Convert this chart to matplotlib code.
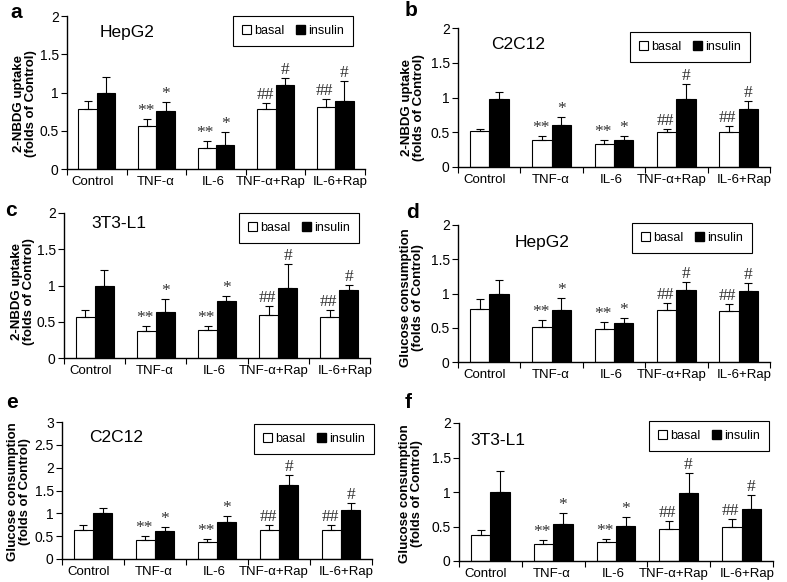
import numpy as np
import matplotlib.pyplot as plt
from matplotlib.patches import Patch
from matplotlib.ticker import FuncFormatter

plt.rcParams['font.family'] = ['Liberation Sans', 'DejaVu Sans']

groups = ['Control', 'TNF-α', 'IL-6', 'TNF-α+Rap', 'IL-6+Rap']
marks_basal = ['', '**', '**', '##', '##']
marks_insulin = ['', '*', '*', '#', '#']

uptake_label = '2-NBDG uptake\n(folds of Control)'
glucose_label = 'Glucose consumption\n(folds of Control)'

# a: HepG2 uptake
a_basal = [0.78, 0.56, 0.28, 0.78, 0.81]
a_basal_err = [0.11, 0.09, 0.08, 0.08, 0.11]
a_ins = [1.00, 0.76, 0.32, 1.10, 0.89]
a_ins_err = [0.20, 0.11, 0.17, 0.09, 0.26]

# b: C2C12 uptake
b_basal = [0.52, 0.39, 0.33, 0.51, 0.51]
b_basal_err = [0.03, 0.05, 0.06, 0.03, 0.08]
b_ins = [0.98, 0.60, 0.39, 0.98, 0.84]
b_ins_err = [0.10, 0.12, 0.05, 0.21, 0.11]

# c: 3T3-L1 uptake
c_basal = [0.56, 0.37, 0.38, 0.59, 0.57]
c_basal_err = [0.10, 0.07, 0.06, 0.13, 0.09]
c_ins = [1.00, 0.63, 0.79, 0.97, 0.94]
c_ins_err = [0.22, 0.19, 0.07, 0.32, 0.07]

# d: HepG2 glucose consumption
d_basal = [0.78, 0.51, 0.48, 0.76, 0.74]
d_basal_err = [0.14, 0.10, 0.10, 0.10, 0.11]
d_ins = [1.00, 0.76, 0.57, 1.05, 1.04]
d_ins_err = [0.20, 0.17, 0.07, 0.12, 0.11]

# e: C2C12 glucose consumption
e_basal = [0.63, 0.41, 0.37, 0.635, 0.635]
e_basal_err = [0.12, 0.09, 0.07, 0.10, 0.12]
e_ins = [1.00, 0.61, 0.80, 1.61, 1.07]
e_ins_err = [0.12, 0.08, 0.14, 0.24, 0.15]

# f: 3T3-L1 glucose consumption
f_basal = [0.38, 0.25, 0.27, 0.47, 0.49]
f_basal_err = [0.07, 0.06, 0.05, 0.11, 0.12]
f_ins = [1.00, 0.53, 0.51, 0.99, 0.76]
f_ins_err = [0.31, 0.16, 0.13, 0.29, 0.20]

W, H = 787, 582

panels = [
    dict(letter='a', title='HepG2', ylabel=uptake_label, ymax=2, yticks=[0, 0.5, 1, 1.5, 2],
         basal=a_basal, be=a_basal_err, ins=a_ins, ie=a_ins_err,
         box=(67, 365, 16, 169), letter_xy=(16, 12), title_xy=(0.5, 1.78),
         lab_xy=(25, 104), leg=(293, 31)),
    dict(letter='b', title='C2C12', ylabel=uptake_label, ymax=2, yticks=[0, 0.5, 1, 1.5, 2],
         basal=b_basal, be=b_basal_err, ins=b_ins, ie=b_ins_err,
         box=(458, 770, 28, 167), letter_xy=(411, 10), title_xy=(0.46, 1.76),
         lab_xy=(413, 108), leg=(690, 47)),
    dict(letter='c', title='3T3-L1', ylabel=uptake_label, ymax=2, yticks=[0, 0.5, 1, 1.5, 2],
         basal=c_basal, be=c_basal_err, ins=c_ins, ie=c_ins_err,
         box=(64, 370, 213, 358), letter_xy=(11, 210), title_xy=(0.4, 1.86),
         lab_xy=(23, 292), leg=(299, 228)),
    dict(letter='d', title='HepG2', ylabel=glucose_label, ymax=2, yticks=[0, 0.5, 1, 1.5, 2],
         basal=d_basal, be=d_basal_err, ins=d_ins, ie=d_ins_err,
         box=(458, 770, 225, 362), letter_xy=(412, 212), title_xy=(0.85, 1.75),
         lab_xy=(412, 298), leg=(692, 238)),
    dict(letter='e', title='C2C12', ylabel=glucose_label, ymax=3, yticks=[0, 0.5, 1, 1.5, 2, 2.5, 3],
         basal=e_basal, be=e_basal_err, ins=e_ins, ie=e_ins_err,
         box=(62, 372, 422, 559), letter_xy=(12, 402), title_xy=(0.37, 2.66),
         lab_xy=(19, 492), leg=(314, 439)),
    dict(letter='f', title='3T3-L1', ylabel=glucose_label, ymax=2, yticks=[0, 0.5, 1, 1.5, 2],
         basal=f_basal, be=f_basal_err, ins=f_ins, ie=f_ins_err,
         box=(459, 773, 423, 561), letter_xy=(408, 402), title_xy=(0.12, 1.74),
         lab_xy=(411, 494), leg=(709, 436)),
]

fig = plt.figure(figsize=(W / 100, H / 100), dpi=100)
x = np.arange(len(groups))
bw = 0.31
# small horizontal nudges of the category labels, as in the original layout
label_pos = x + np.array([-0.07, -0.02, -0.05, -0.08, 0.09])

for p in panels:
    l, r, t, b = p['box']
    ax = fig.add_axes([l / W, 1 - b / H, (r - l) / W, (b - t) / H])
    xb = x - bw / 2
    xi = x + bw / 2
    ax.bar(xb, p['basal'], bw, color='white', edgecolor='black', linewidth=0.8, zorder=2)
    ax.bar(xi, p['ins'], bw, color='black', edgecolor='black', linewidth=0.8, zorder=2)
    zeros = np.zeros(len(groups))
    ax.errorbar(xb, p['basal'], yerr=[zeros, p['be']], fmt='none', ecolor='black',
                elinewidth=0.8, capsize=3, capthick=0.8, zorder=3)
    ax.errorbar(xi, p['ins'], yerr=[zeros, p['ie']], fmt='none', ecolor='black',
                elinewidth=0.8, capsize=3, capthick=0.8, zorder=3)
    for i in range(len(groups)):
        if marks_basal[i]:
            ax.annotate(marks_basal[i], (xb[i], p['basal'][i] + p['be'][i]), xytext=(-1, 0),
                        textcoords='offset points', ha='center', va='bottom',
                        fontsize=12.5, family='Liberation Serif', color='#333333')
        if marks_insulin[i]:
            ax.annotate(marks_insulin[i], (xi[i], p['ins'][i] + p['ie'][i]), xytext=(0, 0),
                        textcoords='offset points', ha='center', va='bottom',
                        fontsize=12.5, family='Liberation Serif', color='#333333')

    ax.set_xlim(-0.5, len(groups) - 0.5)
    ax.set_ylim(0, p['ymax'])
    ax.set_yticks(p['yticks'])
    ax.yaxis.set_major_formatter(FuncFormatter(lambda v, pos: '%g' % v))
    ax.set_xticks(np.arange(len(groups) + 1) - 0.5)
    ax.set_xticklabels([])
    ax.set_xticks(label_pos, minor=True)
    ax.set_xticklabels(groups, minor=True, fontsize=9.5)
    ax.tick_params(axis='x', which='minor', length=0, pad=5)
    ax.tick_params(axis='x', which='major', length=4, width=0.8)
    ax.tick_params(axis='y', length=4, width=0.8, labelsize=10, pad=2)
    for s in ['top', 'right']:
        ax.spines[s].set_visible(False)
    for s in ['left', 'bottom']:
        ax.spines[s].set_linewidth(1.0)

    ax.text(p['title_xy'][0], p['title_xy'][1], p['title'], fontsize=12.5, ha='center', va='center')

    fig.text(p['letter_xy'][0] / W, 1 - p['letter_xy'][1] / H, p['letter'],
             fontsize=15, fontweight='bold', ha='center', va='center')
    fig.text(p['lab_xy'][0] / W, 1 - p['lab_xy'][1] / H, p['ylabel'], rotation=90,
             fontsize=9.5, fontweight='bold', ha='center', va='center', linespacing=0.9)

    handles = [Patch(facecolor='white', edgecolor='black', linewidth=0.8, label='basal'),
               Patch(facecolor='black', edgecolor='black', label='insulin')]
    leg = fig.legend(handles=handles, loc='center',
                     bbox_to_anchor=(p['leg'][0] / W, 1 - p['leg'][1] / H),
                     ncol=2, fontsize=9, frameon=True, fancybox=False,
                     edgecolor='black', framealpha=1, handlelength=0.7, handleheight=0.7,
                     handletextpad=0.25, columnspacing=1.0, borderpad=0.7)
    leg.get_frame().set_linewidth(0.8)

fig.savefig('out.png', dpi=100)
